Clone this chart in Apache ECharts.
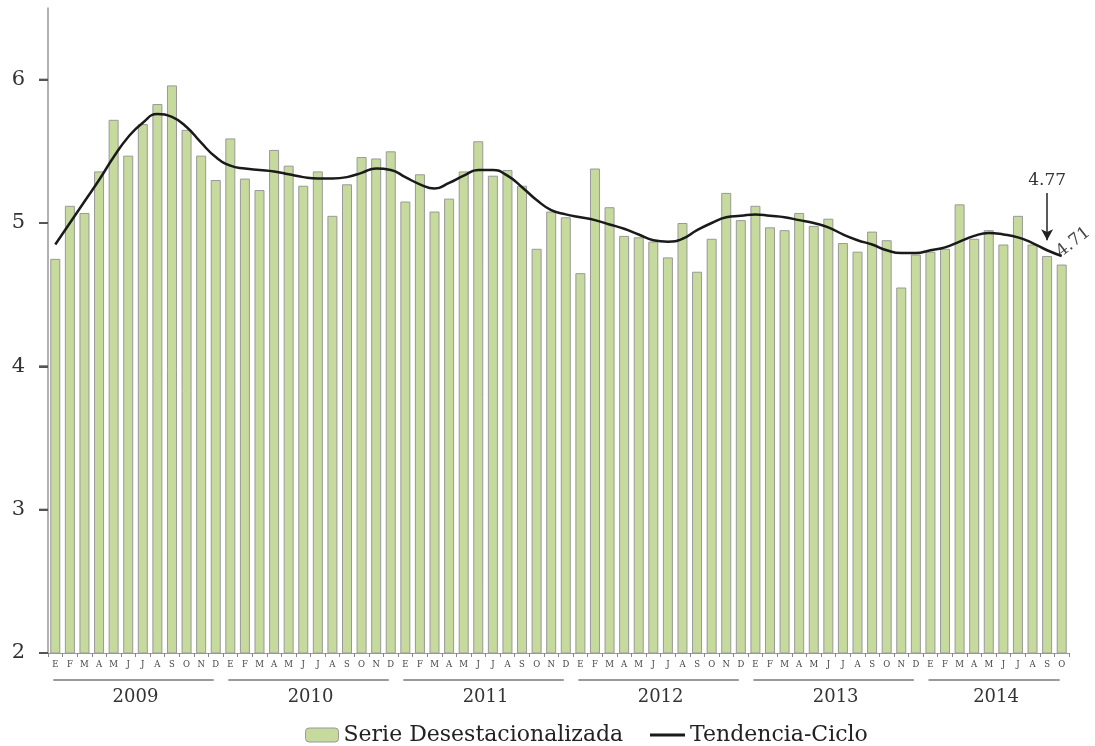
<!DOCTYPE html>
<html>
<head>
<meta charset="utf-8">
<script src="https://cdn.jsdelivr.net/npm/echarts@6.0.0/dist/echarts.min.js"></script>
<style>
  html, body { margin: 0; padding: 0; background: #fff; }
  #chart { width: 1095px; height: 746px; }
</style>
</head>
<body>
<div id="chart"></div>
<script>
// ---- data ----
const years = ['2009', '2010', '2011', '2012', '2013', '2014'];
const monthsPerYear = [12, 12, 12, 12, 12, 10];
const monthLetters = ['E', 'F', 'M', 'A', 'M', 'J', 'J', 'A', 'S', 'O', 'N', 'D'];

const serieDesestacionalizada = [
  4.75, 5.12, 5.07, 5.36, 5.72, 5.47, 5.69, 5.83, 5.96, 5.65, 5.47, 5.30,
  5.59, 5.31, 5.23, 5.51, 5.40, 5.26, 5.36, 5.05, 5.27, 5.46, 5.45, 5.50,
  5.15, 5.34, 5.08, 5.17, 5.36, 5.57, 5.33, 5.37, 5.26, 4.82, 5.08, 5.04,
  4.65, 5.38, 5.11, 4.91, 4.90, 4.87, 4.76, 5.00, 4.66, 4.89, 5.21, 5.02,
  5.12, 4.97, 4.95, 5.07, 4.98, 5.03, 4.86, 4.80, 4.94, 4.88, 4.55, 4.78,
  4.80, 4.82, 5.13, 4.89, 4.95, 4.85, 5.05, 4.85, 4.77, 4.71
];

const tendenciaCiclo = [
  4.85, 5.00, 5.15, 5.30, 5.46, 5.60, 5.70, 5.76, 5.74, 5.67, 5.56, 5.46,
  5.40, 5.38, 5.37, 5.36, 5.34, 5.32, 5.31, 5.31, 5.32, 5.35, 5.38, 5.37,
  5.32, 5.27, 5.24, 5.28, 5.33, 5.37, 5.37, 5.33, 5.25, 5.16, 5.09, 5.06,
  5.04, 5.02, 4.99, 4.96, 4.92, 4.88, 4.87, 4.89, 4.95, 5.00, 5.04, 5.05,
  5.06, 5.05, 5.04, 5.02, 5.00, 4.97, 4.92, 4.88, 4.85, 4.81, 4.79, 4.79,
  4.81, 4.83, 4.87, 4.91, 4.93, 4.92, 4.90, 4.86, 4.81, 4.77
];

const yTicks = [2, 3, 4, 5, 6];
const annotatedPenultimate = '4.77';
const annotatedLast = '4.71';

// ---- build categories ----
const categories = [];
const yearSpans = [];
years.forEach((y, yi) => {
  const start = categories.length;
  for (let m = 0; m < monthsPerYear[yi]; m++) categories.push(y + '-' + m);
  yearSpans.push([start, 2, categories.length - 1, y]);
});

const serif = '"DejaVu Serif", "Liberation Serif", serif';
const n = serieDesestacionalizada.length;

const barData = serieDesestacionalizada.map((v, i) => {
  if (i === n - 1) {
    return {
      value: v,
      label: {
        show: true,
        formatter: annotatedLast,
        position: [7, -4],
        align: 'left',
        verticalAlign: 'bottom',
        rotate: 38,
        fontFamily: serif,
        fontSize: 17,
        color: '#444'
      }
    };
  }
  return v;
});

const chart = echarts.init(document.getElementById('chart'));
chart.setOption({
  animation: false,
  backgroundColor: '#fff',
  grid: { left: 48, right: 26, top: 8, bottom: 93 },
  legend: [
    {
      data: ['Serie Desestacionalizada'],
      left: 300,
      top: 719,
      itemWidth: 33,
      itemHeight: 14,
      itemStyle: { borderColor: '#999', borderWidth: 1 },
      textStyle: { fontFamily: serif, fontSize: 22, color: '#222' }
    },
    {
      data: ['Tendencia-Ciclo'],
      left: 645,
      top: 719,
      icon: 'rect',
      itemWidth: 35,
      itemHeight: 3,
      textStyle: { fontFamily: serif, fontSize: 22, color: '#222' }
    }
  ],
  xAxis: {
    type: 'category',
    data: categories,
    boundaryGap: true,
    axisLine: { lineStyle: { color: '#999', width: 1 } },
    axisTick: { show: true, interval: 0, length: 4, lineStyle: { color: '#888' } },
    axisLabel: {
      interval: 0,
      margin: 7,
      fontFamily: serif,
      fontSize: 8.5,
      color: '#444',
      formatter: (val) => monthLetters[parseInt(val.split('-')[1], 10)]
    },
    splitLine: { show: false }
  },
  yAxis: {
    type: 'value',
    min: 2,
    max: 6.5,
    interval: 1,
    axisLine: { show: true, lineStyle: { color: '#999', width: 1.5 } },
    axisTick: { show: true, length: 9, lineStyle: { color: '#555', width: 2 } },
    axisLabel: {
      fontFamily: serif,
      fontSize: 21,
      color: '#333',
      margin: 23,
      showMaxLabel: false,
      formatter: (v) => (yTicks.indexOf(v) >= 0 ? String(v) : '')
    },
    splitLine: { show: false }
  },
  series: [
    {
      name: 'Serie Desestacionalizada',
      type: 'bar',
      data: barData,
      barWidth: 10,
      itemStyle: { color: '#c6da9d', borderColor: '#999', borderWidth: 1 },
      markLine: {
        silent: true,
        symbol: ['none', 'arrow'],
        symbolSize: [9, 11],
        lineStyle: { color: '#222', width: 1.5, type: 'solid' },
        label: {
          show: true,
          position: 'start',
          formatter: annotatedPenultimate,
          fontFamily: serif,
          fontSize: 17,
          color: '#333',
          distance: 4
        },
        data: [[
          { coord: [categories[n - 2], 5.21] },
          { coord: [categories[n - 2], 4.88] }
        ]]
      }
    },
    {
      name: 'Tendencia-Ciclo',
      type: 'line',
      data: tendenciaCiclo,
      smooth: true,
      symbol: 'none',
      lineStyle: { color: '#1a1a1a', width: 2.5 },
      itemStyle: { color: '#1a1a1a' },
      z: 3
    },
    {
      name: 'years',
      type: 'custom',
      silent: true,
      clip: false,
      data: yearSpans,
      encode: { x: [0, 2], y: 1 },
      renderItem: function (params, api) {
        const s = api.value(0);
        const e = api.value(2);
        const p1 = api.coord([s, 2]);
        const p2 = api.coord([e, 2]);
        const label = yearSpans[params.dataIndex][3];
        const half = api.size([1, 0])[0] / 2;
        const children = [
          {
            type: 'line',
            shape: { x1: p1[0] - 2, y1: p1[1] + 27, x2: p2[0] - 2, y2: p1[1] + 27 },
            style: { stroke: '#9a9a9a', lineWidth: 2 }
          },
          {
            type: 'text',
            style: {
              text: label,
              x: (p1[0] + p2[0]) / 2,
              y: p1[1] + 44,
              align: 'center',
              verticalAlign: 'middle',
              fontFamily: serif,
              fontSize: 18,
              fill: '#333'
            }
          }
        ];
        if (params.dataIndex === 0) {
          yTicks.forEach((t) => {
            const q = api.coord([0, t]);
            const x0 = q[0] - half;
            children.push({
              type: 'line',
              shape: { x1: x0 - 9, y1: q[1], x2: x0, y2: q[1] },
              style: { stroke: '#555', lineWidth: 2 }
            });
          });
        }
        return { type: 'group', children: children };
      }
    }
  ]
});
</script>
</body>
</html>
